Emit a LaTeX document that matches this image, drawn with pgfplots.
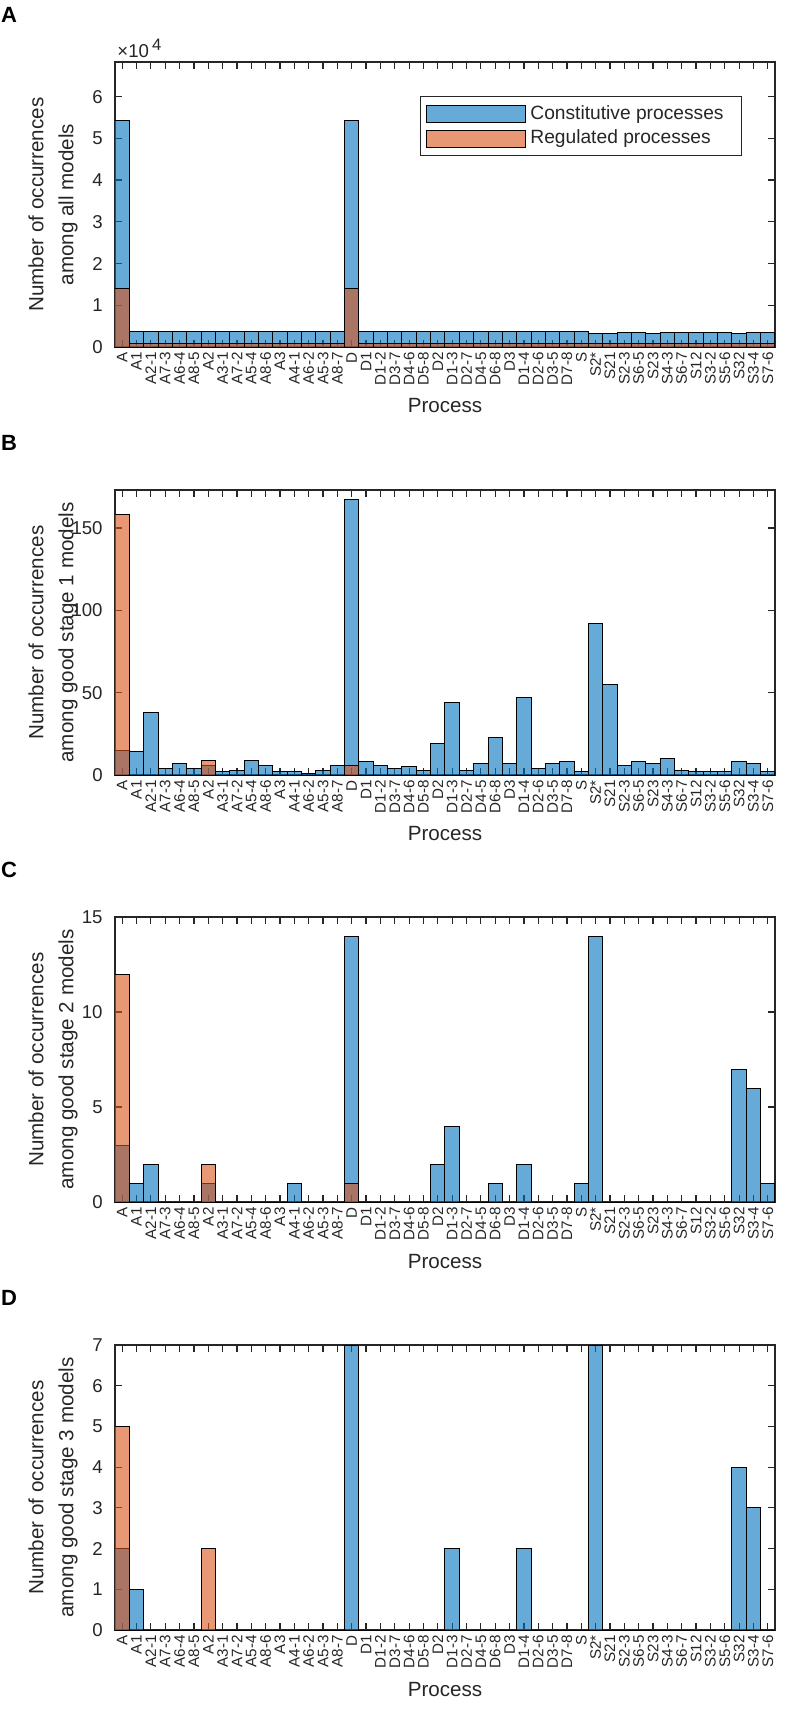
\documentclass[border=0pt]{standalone}
\usepackage{fontspec}
\setmainfont{Liberation Sans}
\usepackage{pgfplots}
\usepackage{pgfplotstable}
\pgfplotsset{compat=1.18}
\definecolor{mblue}{rgb}{0,0.447,0.741}
\definecolor{morange}{rgb}{0.85,0.325,0.098}
\definecolor{axgray}{rgb}{0.15,0.15,0.15}

% columns: x index, constitutive, regulated
\pgfplotstableread{
x con reg
0 54200 14100
1 3600 900
2 3600 900
3 3600 900
4 3600 900
5 3600 900
6 3600 900
7 3600 900
8 3600 900
9 3600 900
10 3600 900
11 3600 900
12 3600 900
13 3600 900
14 3600 900
15 3600 900
16 54200 14100
17 3600 900
18 3600 900
19 3600 900
20 3600 900
21 3600 900
22 3600 900
23 3600 900
24 3600 900
25 3600 900
26 3600 900
27 3600 900
28 3600 900
29 3600 900
30 3600 900
31 3600 900
32 3600 900
33 3300 900
34 3200 900
35 3500 900
36 3500 900
37 3200 900
38 3500 900
39 3500 900
40 3400 900
41 3450 900
42 3450 900
43 3300 900
44 3500 900
45 3500 900
}\dataA

\pgfplotstableread{
x con reg
0 15 158
1 14 0
2 38 0
3 4 0
4 7 0
5 4 0
6 6 9
7 2 0
8 3 0
9 9 0
10 6 0
11 2 0
12 2 0
13 1 0
14 3 0
15 6 0
16 167 6
17 8 0
18 6 0
19 4 0
20 5 0
21 3 0
22 19 0
23 44 0
24 3 0
25 7 0
26 23 0
27 7 0
28 47 0
29 4 0
30 7 0
31 8 0
32 2 0
33 92 0
34 55 0
35 6 0
36 8 0
37 7 0
38 10 0
39 3 0
40 2 0
41 2 0
42 2 0
43 8 0
44 7 0
45 2 0
}\dataB

\pgfplotstableread{
x con reg
0 3 12
1 1 0
2 2 0
3 0 0
4 0 0
5 0 0
6 1 2
7 0 0
8 0 0
9 0 0
10 0 0
11 0 0
12 1 0
13 0 0
14 0 0
15 0 0
16 14 1
17 0 0
18 0 0
19 0 0
20 0 0
21 0 0
22 2 0
23 4 0
24 0 0
25 0 0
26 1 0
27 0 0
28 2 0
29 0 0
30 0 0
31 0 0
32 1 0
33 14 0
34 0 0
35 0 0
36 0 0
37 0 0
38 0 0
39 0 0
40 0 0
41 0 0
42 0 0
43 7 0
44 6 0
45 1 0
}\dataC

\pgfplotstableread{
x con reg
0 2 5
1 1 0
2 0 0
3 0 0
4 0 0
5 0 0
6 0 2
7 0 0
8 0 0
9 0 0
10 0 0
11 0 0
12 0 0
13 0 0
14 0 0
15 0 0
16 7 0
17 0 0
18 0 0
19 0 0
20 0 0
21 0 0
22 0 0
23 2 0
24 0 0
25 0 0
26 0 0
27 0 0
28 2 0
29 0 0
30 0 0
31 0 0
32 0 0
33 7 0
34 0 0
35 0 0
36 0 0
37 0 0
38 0 0
39 0 0
40 0 0
41 0 0
42 0 0
43 4 0
44 3 0
45 0 0
}\dataD

\pgfplotsset{
  panel/.style={
    scale only axis, width=330pt, height=142.5pt,
    xmin=-0.5, xmax=45.5, ymin=0,
    xtick={0,...,45},
    xticklabels={A,A1,A2-1,A7-3,A6-4,A8-5,A2,A3-1,A7-2,A5-4,A8-6,A3,A4-1,A6-2,A5-3,A8-7,D,D1,D1-2,D3-7,D4-6,D5-8,D2,D1-3,D2-7,D4-5,D6-8,D3,D1-4,D2-6,D3-5,D7-8,S,S2*,S21,S2-3,S6-5,S23,S4-3,S6-7,S12,S3-2,S5-6,S32,S3-4,S7-6},
    tick align=inside, tick pos=both,
    major tick length=3.3pt,
    axis line style={axgray, line width=0.6pt},
    every tick/.style={axgray, line width=0.6pt},
    /pgf/number format/assume math mode=true,
    scaled y ticks=false,
    xticklabel style={rotate=90, anchor=east, inner sep=2.5pt, font=\fontsize{7.6}{7.6}\selectfont, text=axgray},
    yticklabel style={inner sep=0pt, xshift=-6pt, font=\fontsize{9.3}{9.3}\selectfont, text=axgray},
    xlabel={Process},
    every axis x label/.style={at={([yshift=-29.5pt]axis description cs:0.5,0)}, anchor=center, font=\fontsize{10.3}{10.3}\selectfont, text=axgray},
    every axis y label/.style={at={([xshift=-31pt]axis description cs:0,0.5)}, rotate=90, anchor=center, align=center, font=\fontsize{10.3}{15}\selectfont, text=axgray},
  },
  con/.style={ybar, bar width=1, bar shift=0pt, fill=mblue, fill opacity=0.6, draw=black, line width=0.5pt},
  reg/.style={ybar, bar width=1, bar shift=0pt, fill=morange, fill opacity=0.6, draw=black, line width=0.5pt},
}

\begin{document}
\begin{tikzpicture}
\useasboundingbox (-57.5pt,31pt) rectangle (336pt,-823.5pt);

% Panel A
\begin{axis}[panel, at={(0pt,0pt)}, anchor=north west,
  ymax=68300, ytick={0,10000,20000,30000,40000,50000,60000}, yticklabels={0,1,2,3,4,5,6},
  ylabel={Number of occurrences\\among all models},
  legend style={at={(rel axis cs:0.462,0.882)}, anchor=north west, draw=axgray, line width=0.5pt,
    font=\fontsize{9.6}{9.6}\selectfont, text=axgray, inner xsep=3pt, inner ysep=2.5pt, row sep=0pt,
    cells={anchor=west}},
  legend image code/.code={\draw[#1] (0pt,-4.25pt) rectangle (49.5pt,4.25pt);},
]
\addplot[con] table[x=x, y=con] {\dataA};
\addplot[reg] table[x=x, y=reg] {\dataA};
\addlegendentry{Constitutive processes\rule{4pt}{0pt}}
\addlegendentry{Regulated processes}
\end{axis}
\node[anchor=base west, inner sep=0pt, font=\fontsize{9.3}{9.3}\selectfont, text=axgray] at (1pt,2.5pt) {×10\,\raisebox{3.5pt}{\fontsize{8.3}{8.3}\selectfont 4}};
\node[font=\bfseries\fontsize{11}{11}\selectfont, text=black] at (-53pt,23.5pt) {A};

% Panel B
\begin{axis}[panel, at={(0pt,-214pt)}, anchor=north west,
  ymax=173, ytick={0,50,100,150},
  ylabel={Number of occurrences\\among good stage 1 models},
]
\addplot[con] table[x=x, y=con] {\dataB};
\addplot[reg] table[x=x, y=reg] {\dataB};
\end{axis}
\node[font=\bfseries\fontsize{11}{11}\selectfont, text=black] at (-53pt,-190.5pt) {B};

% Panel C
\begin{axis}[panel, at={(0pt,-427.5pt)}, anchor=north west,
  ymax=15, ytick={0,5,10,15},
  ylabel={Number of occurrences\\among good stage 2 models},
]
\addplot[con] table[x=x, y=con] {\dataC};
\addplot[reg] table[x=x, y=reg] {\dataC};
\end{axis}
\node[font=\bfseries\fontsize{11}{11}\selectfont, text=black] at (-53pt,-404pt) {C};

% Panel D
\begin{axis}[panel, at={(0pt,-641.5pt)}, anchor=north west,
  ymax=7, ytick={0,1,2,3,4,5,6,7},
  ylabel={Number of occurrences\\among good stage 3 models},
]
\addplot[con] table[x=x, y=con] {\dataD};
\addplot[reg] table[x=x, y=reg] {\dataD};
\end{axis}
\node[font=\bfseries\fontsize{11}{11}\selectfont, text=black] at (-53pt,-618pt) {D};
\end{tikzpicture}
\end{document}
